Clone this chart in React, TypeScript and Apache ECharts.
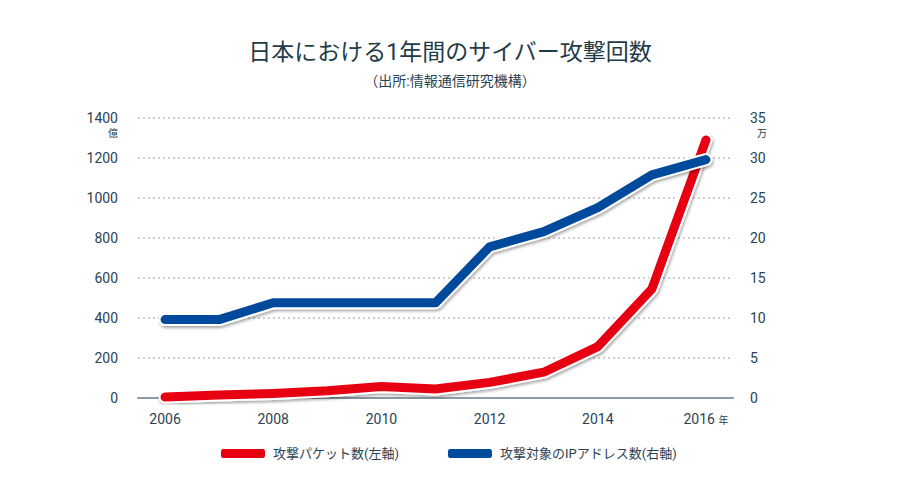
import React, { useEffect, useRef } from "react";
import * as echarts from "echarts";

const years = ["2006", "2007", "2008", "2009", "2010", "2011", "2012", "2013", "2014", "2015", "2016"];
const packets = [5, 15, 23, 36, 57, 45, 78, 129, 257, 545, 1290]; // 億
const ipAddresses = [9.8, 9.8, 11.9, 11.9, 11.9, 11.9, 18.9, 20.8, 23.8, 27.9, 29.8]; // 万
const leftTicks = [0, 1400, 200];
const rightTicks = [0, 35, 5];
const packetName = "攻撃パケット数(左軸)";
const ipName = "攻撃対象のIPアドレス数(右軸)";

const FONT = "Roboto, 'Noto Sans CJK JP', sans-serif";
const TEXT = "#2b4252";
const RED = "#e60012";
const BLUE = "#004a9d";

export default function App() {
  const ref = useRef<HTMLDivElement>(null);
  useEffect(() => {
    const chart = echarts.init(ref.current!, null, { renderer: "svg" });
    const outline = (data: number[], yAxisIndex: number) => ({
      type: "line",
      yAxisIndex,
      data,
      symbol: "none",
      silent: true,
      z: 2,
      lineStyle: {
        width: 13,
        color: "#ffffff",
        cap: "round",
        join: "round",
        shadowColor: "rgba(0,0,0,0.35)",
        shadowBlur: 3,
        shadowOffsetX: 1,
        shadowOffsetY: 2,
      },
    });
    const main = (name: string, data: number[], yAxisIndex: number, color: string) => ({
      type: "line",
      name,
      yAxisIndex,
      data,
      symbol: "none",
      z: 3,
      color,
      lineStyle: { width: 9, color, cap: "round", join: "round" },
    });
    chart.setOption({
      animation: false,
      textStyle: { fontFamily: FONT },
      title: {
        text: "日本における1年間のサイバー攻撃回数",
        subtext: "（出所:情報通信研究機構）",
        left: "center",
        top: 36,
        itemGap: 10,
        textStyle: { fontSize: 23, fontWeight: "normal", color: "#1f3b4a", fontFamily: FONT },
        subtextStyle: { fontSize: 14, color: TEXT, fontFamily: FONT },
      },
      legend: {
        data: [packetName, ipName],
        bottom: 40,
        left: 221,
        padding: 0,
        itemGap: 49,
        itemWidth: 44,
        itemHeight: 9,
        icon: "roundRect",
        textStyle: { fontSize: 13, color: TEXT, fontFamily: FONT, padding: [0, 0, 0, 3] },
      },
      grid: { left: 138, right: 167, top: 118, bottom: 102 },
      xAxis: {
        type: "category",
        data: years,
        boundaryGap: true,
        axisTick: { show: false },
        axisLine: { lineStyle: { color: "#8c9ba5", width: 2 } },
        axisLabel: {
          interval: 1,
          color: TEXT,
          fontSize: 14,
          margin: 14,
          formatter: (v: string) => (v === "2016" ? "{a|" + v + "} {b|年}" : v),
          rich: {
            a: { fontSize: 14, color: TEXT, fontFamily: FONT },
            b: { fontSize: 10, color: TEXT, fontFamily: FONT, padding: [3, 0, 0, 0] },
          },
        },
      },
      yAxis: [
        {
          type: "value",
          min: leftTicks[0],
          max: leftTicks[1],
          interval: leftTicks[2],
          axisLine: { show: false },
          axisTick: { show: false },
          axisLabel: { color: TEXT, fontSize: 14, margin: 20, formatter: (v: number) => String(v) },
          splitLine: { lineStyle: { color: "#b8bfc4", type: [2, 3], width: 1.5 } },
        },
        {
          type: "value",
          min: rightTicks[0],
          max: rightTicks[1],
          interval: rightTicks[2],
          axisLine: { show: false },
          axisTick: { show: false },
          axisLabel: { color: TEXT, fontSize: 14, margin: 17, formatter: (v: number) => String(v) },
          splitLine: { show: false },
        },
      ],
      graphic: [
        { type: "text", left: 108, top: 128, style: { text: "億", fontSize: 10, fill: TEXT, fontFamily: FONT } },
        { type: "text", left: 757, top: 128, style: { text: "万", fontSize: 10, fill: TEXT, fontFamily: FONT } },
      ],
      series: [
        outline(packets, 0),
        main(packetName, packets, 0, RED),
        { ...outline(ipAddresses, 1), z: 4 },
        { ...main(ipName, ipAddresses, 1, BLUE), z: 5 },
      ],
    });
    return () => chart.dispose();
  }, []);
  return <div ref={ref} style={{ position: "absolute", left: 0, top: 0, width: 900, height: 500 }} />;
}
